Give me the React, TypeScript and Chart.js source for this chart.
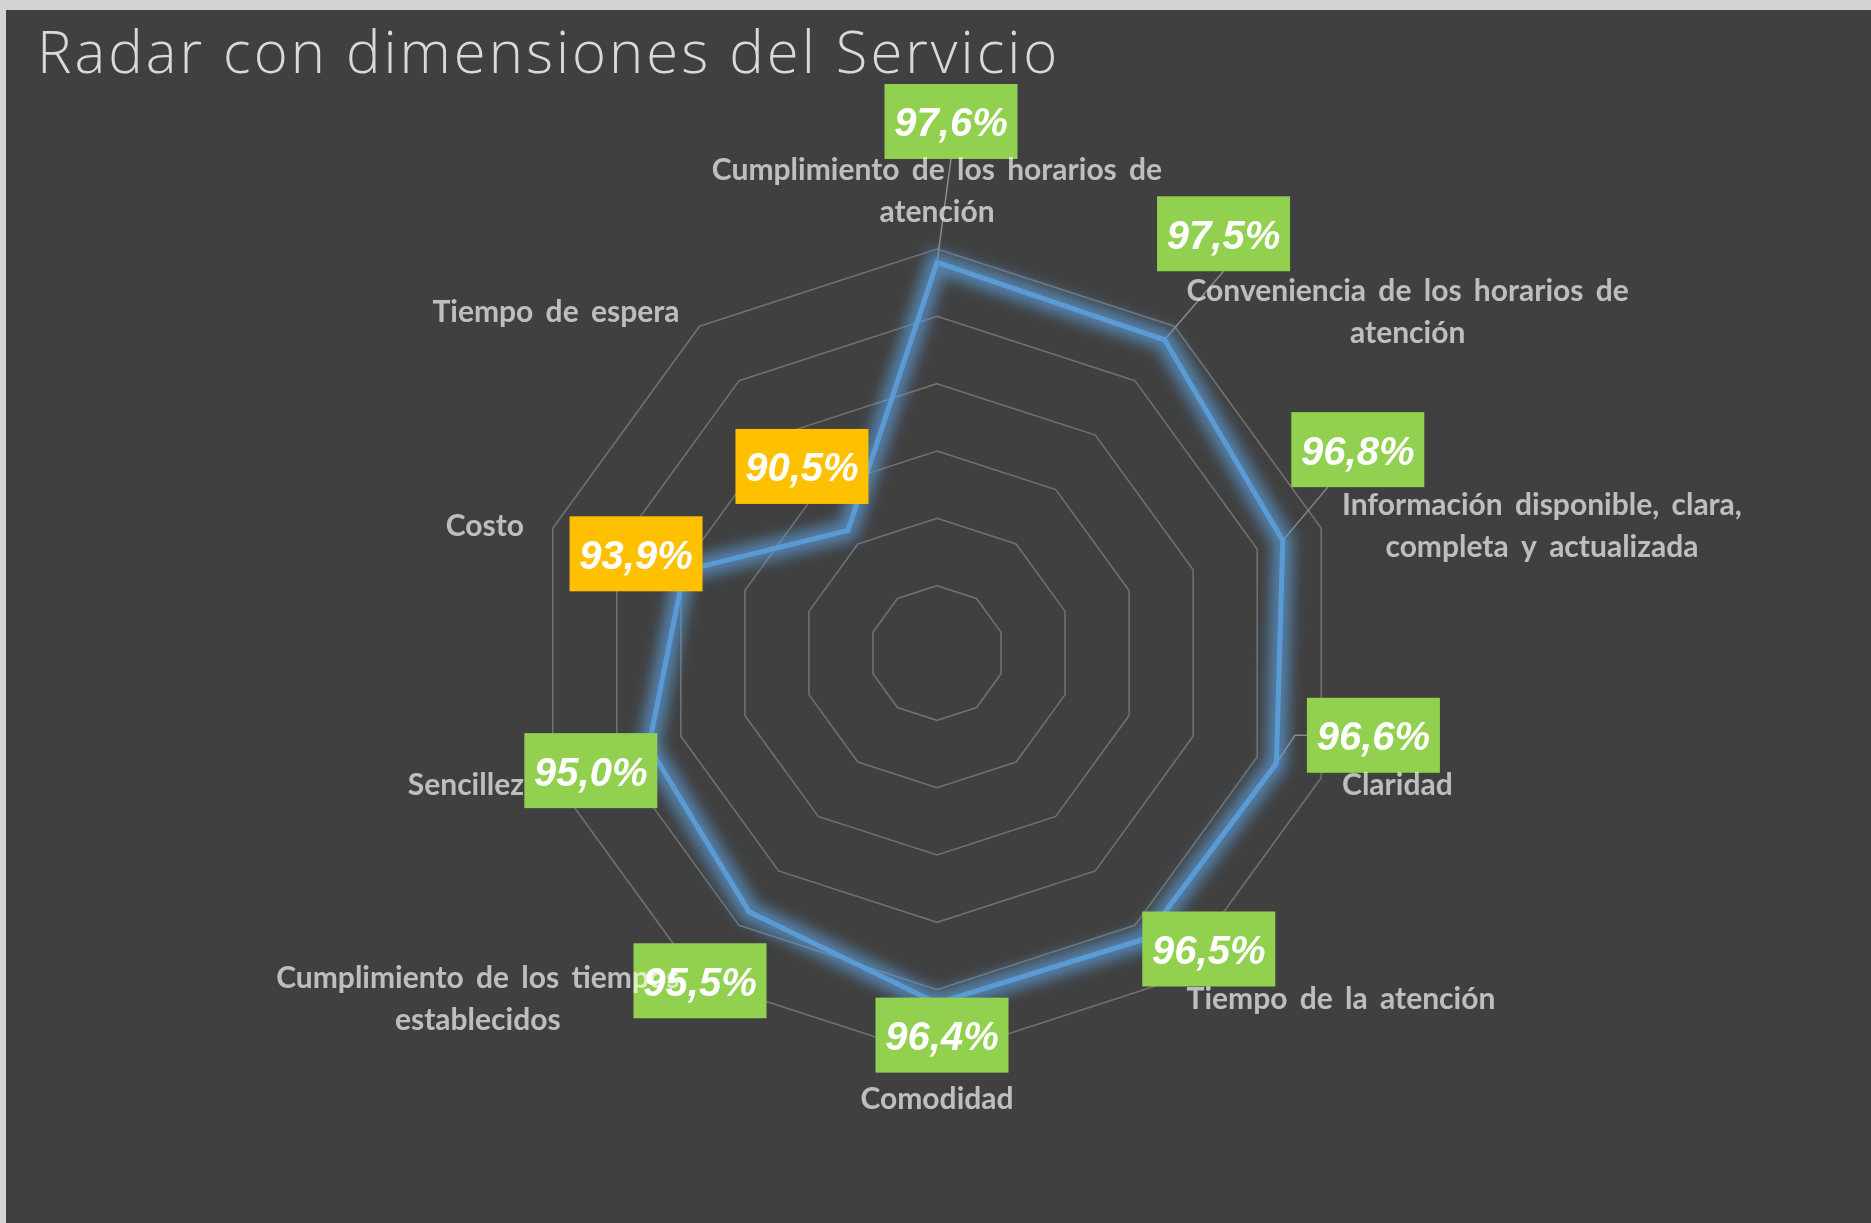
import React, { useEffect, useRef } from "react";
import { Chart, registerables } from "chart.js";

Chart.register(...registerables);

// ---- data ----
const categories: string[][] = [
  ["Cumplimiento de los horarios de", "atención"],
  ["Conveniencia de los horarios de", "atención"],
  ["Información disponible, clara,", "completa y actualizada"],
  ["Claridad"],
  ["Tiempo de la atención"],
  ["Comodidad"],
  ["Cumplimiento de los tiempos", "establecidos"],
  ["Sencillez"],
  ["Costo"],
  ["Tiempo de espera"],
];
const satisfaction: number[] = [97.6, 97.5, 96.8, 96.6, 96.5, 96.4, 95.5, 95.0, 93.9, 90.5];
const scaleMin = 86;
const scaleMax = 98;
const scaleStep = 2;
const goodThreshold = 95;
const chartTitle = "Radar con dimensiones del Servicio";

// ---- styling / layout (not data) ----
const labelNudges: [number, number][] = [
  [14, -141],
  [59, -106],
  [75, -91],
  [97, -28],
  [64, 10],
  [5, 32],
  [-49, 69],
  [-58, 24],
  [-48, -17],
  [-46, -64],
];
const BOX_W = 133;
const BOX_H = 75;
const LABEL_PAD = 24;
const LINE_H = 42;

const fmt = (v: number) => v.toFixed(1).replace(".", ",") + "%";

const decor = {
  id: "radarDecor",
  beforeDatasetsDraw(chart: any) {
    const ctx = chart.ctx;
    const pts = chart.getDatasetMeta(0).data;
    // leader lines
    ctx.save();
    ctx.strokeStyle = "#8a8a8a";
    ctx.lineWidth = 1.5;
    pts.forEach((p: any, i: number) => {
      const [dx, dy] = labelNudges[i];
      const cx = p.x + dx;
      const cy = p.y + dy;
      if (Math.hypot(dx, dy) < 95) return;
      ctx.beginPath();
      if (Math.abs(dy) / BOX_H > Math.abs(dx) / BOX_W) {
        const sy = dy < 0 ? cy + BOX_H / 2 : cy - BOX_H / 2;
        const sx = dx > 60 ? cx - 30 : cx;
        ctx.moveTo(sx, sy);
      } else {
        const sx = dx > 0 ? cx - BOX_W / 2 : cx + BOX_W / 2;
        ctx.moveTo(sx, cy);
        ctx.lineTo(sx + (dx > 0 ? -12 : 12), cy);
      }
      ctx.lineTo(p.x, p.y);
      ctx.stroke();
    });
    ctx.restore();
    // glow under the series line
    ctx.save();
    ctx.filter = "blur(7px)";
    ctx.strokeStyle = "rgba(91,155,213,0.72)";
    ctx.lineWidth = 21;
    ctx.lineJoin = "miter";
    ctx.beginPath();
    pts.forEach((p: any, i: number) => (i === 0 ? ctx.moveTo(p.x, p.y) : ctx.lineTo(p.x, p.y)));
    ctx.closePath();
    ctx.stroke();
    ctx.restore();
  },
  afterDatasetsDraw(chart: any) {
    const ctx = chart.ctx;
    const pts = chart.getDatasetMeta(0).data;
    const scale = chart.scales.r;
    // value boxes
    ctx.save();
    pts.forEach((p: any, i: number) => {
      const v = satisfaction[i];
      const [dx, dy] = labelNudges[i];
      const cx = p.x + dx;
      const cy = p.y + dy;
      ctx.fillStyle = v >= goodThreshold ? "#92d050" : "#ffc000";
      ctx.fillRect(cx - BOX_W / 2, cy - BOX_H / 2, BOX_W, BOX_H);
      ctx.fillStyle = "#ffffff";
      ctx.font = "italic bold 40px 'Liberation Sans'";
      ctx.textAlign = "center";
      ctx.textBaseline = "alphabetic";
      ctx.fillText(fmt(v), cx, cy + 15);
    });
    ctx.restore();
    // category labels
    ctx.save();
    ctx.font = "bold 30px Lato";
    (ctx as any).wordSpacing = "5px";
    ctx.fillStyle = "rgba(255,255,255,0.66)";
    ctx.textBaseline = "alphabetic";
    ctx.textAlign = "center";
    categories.forEach((lines, i) => {
      const pos = scale.getPointPosition(i, scale.drawingArea + LABEL_PAD);
      let deg = Math.round(((pos.angle + Math.PI / 2) * 180) / Math.PI) % 360;
      if (deg < 0) deg += 360;
      const w = Math.max(...lines.map((l) => ctx.measureText(l).width));
      let centerX: number;
      if (deg === 0 || deg === 180) centerX = pos.x;
      else if (deg < 180) centerX = pos.x - 2 + w / 2;
      else centerX = pos.x - 6 - w / 2;
      let firstBase: number;
      const n = lines.length;
      const upper = deg < 90 || deg > 270;
      if (deg === 0) firstBase = pos.y - 3 - (n - 1) * LINE_H;
      else if (deg === 180) firstBase = pos.y + 28;
      else firstBase = pos.y + (upper ? 15 : 10) - ((n - 1) * LINE_H) / 2;
      lines.forEach((l, k) => ctx.fillText(l, centerX, firstBase + k * LINE_H));
    });
    ctx.restore();
    // title
    ctx.save();
    ctx.font = "300 58px 'Open Sans'";
    (ctx as any).letterSpacing = "3px";
    ctx.fillStyle = "#d9d9d9";
    ctx.textAlign = "left";
    ctx.textBaseline = "alphabetic";
    ctx.fillText(chartTitle, 37, 73);
    ctx.restore();
  },
};

export default function App() {
  const ref = useRef<HTMLCanvasElement | null>(null);
  useEffect(() => {
    if (!ref.current) return;
    const chart = new Chart(ref.current, {
      type: "radar",
      data: {
        labels: categories,
        datasets: [
          {
            data: satisfaction,
            borderColor: "#5b9bd5",
            borderWidth: 5,
            borderJoinStyle: "miter",
            pointRadius: 0,
            pointHoverRadius: 0,
            fill: false,
            tension: 0,
          },
        ],
      },
      options: {
        responsive: false,
        animation: false,
        events: [],
        layout: { padding: { left: 533, top: 249, right: 530, bottom: 166 } },
        plugins: {
          legend: { display: false },
          tooltip: { enabled: false },
          title: { display: false },
        },
        scales: {
          r: {
            min: scaleMin,
            max: scaleMax,
            ticks: { display: false, stepSize: scaleStep },
            grid: { color: "#707070", lineWidth: 1.6, circular: false },
            angleLines: { display: false },
            pointLabels: { display: false },
          },
        },
      },
      plugins: [decor],
    } as any);
    return () => chart.destroy();
  }, []);

  return (
    <div
      style={{
        position: "absolute",
        left: 0,
        top: 0,
        width: 1871,
        height: 1223,
        background: "#d4d4d4",
        overflow: "hidden",
      }}
    >
      <div
        style={{
          position: "absolute",
          left: 6,
          top: 10,
          right: 0,
          bottom: 0,
          background: "#404040",
        }}
      />
      <canvas
        ref={ref}
        width={1871}
        height={1223}
        style={{ position: "absolute", left: 0, top: 0, width: 1871, height: 1223 }}
      />
    </div>
  );
}
